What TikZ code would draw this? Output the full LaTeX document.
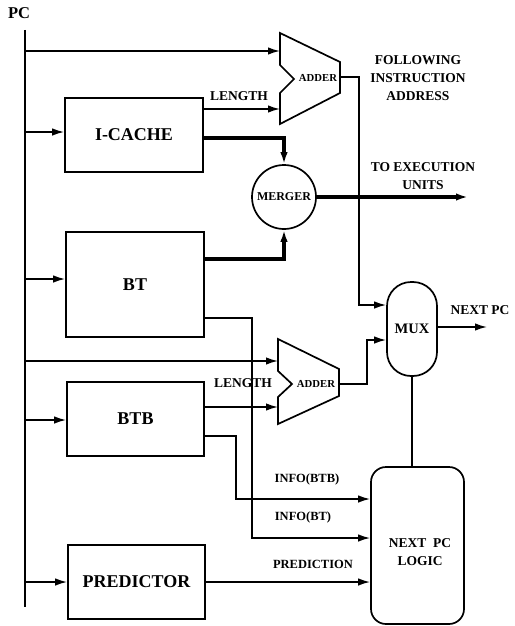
\documentclass[tikz,border=0pt]{standalone}
\usepackage{fontspec}
\setmainfont{Liberation Serif}
\usetikzlibrary{arrows.meta}
\tikzset{
  wire/.style={line width=1.6pt},
  thickwire/.style={line width=3.4pt},
  arr/.style={-{Latex[length=12pt,width=7.5pt]}},
  unit/.style={draw, line width=1.7pt, rectangle, inner sep=0pt},
  bigtxt/.style={font=\bfseries\fontsize{18}{20}\selectfont},
  lbl/.style={font=\bfseries\fontsize{13.5}{18}\selectfont, align=center, inner sep=0pt},
  smalllbl/.style={font=\bfseries\fontsize{12.5}{15}\selectfont, inner sep=0pt},
  addershape/.style={draw, line width=1.7pt, line join=miter}
}
\begin{document}
\begin{tikzpicture}[x=1pt,y=-1pt]
\useasboundingbox (0,0) rectangle (514,626);

% PC bus
\node[lbl, font=\bfseries\fontsize{16.5}{18}\selectfont] (pc) at (19,13) {PC};
\coordinate (busTop) at (25,30);
\coordinate (busBot) at (25,607);
\draw[wire] (busTop) -- (busBot);

% boxes
\node[unit, bigtxt, minimum width=138pt, minimum height=74pt] (icache) at (134,135) {I-CACHE};
\node[unit, bigtxt, minimum width=138pt, minimum height=105pt] (bt) at (135,284.5) {BT};
\node[unit, bigtxt, minimum width=137pt, minimum height=74pt] (btb) at (135.5,419) {BTB};
\node[unit, bigtxt, minimum width=137pt, minimum height=74pt] (pred) at (136.5,582) {PREDICTOR};

% merger
\node[draw, circle, line width=1.7pt, minimum size=64pt, inner sep=0pt,
      font=\bfseries\fontsize{12}{14}\selectfont] (merger) at (284,197) {MERGER};

% adders
\draw[addershape] (280,33) -- (340,62) -- (340,93) -- (280,124) -- (280,93) -- (294,79) -- (280,65) -- cycle;
\node[font=\bfseries\fontsize{10.7}{12}\selectfont, inner sep=0pt] (add1) at (318,78) {ADDER};
\coordinate (add1inA) at (280,51);
\coordinate (add1inB) at (280,109);
\coordinate (add1out) at (340,77);

\draw[addershape] (278,339) -- (339,369) -- (339,396) -- (278,424) -- (278,397) -- (292,384) -- (278,371) -- cycle;
\node[font=\bfseries\fontsize{10.7}{12}\selectfont, inner sep=0pt] (add2) at (316,384) {ADDER};
\coordinate (add2inA) at (278,361);
\coordinate (add2inB) at (278,407);
\coordinate (add2out) at (339,384);

% mux
\node[draw, line width=1.7pt, rectangle, rounded corners=24pt, minimum width=50pt, minimum height=94pt,
      inner sep=0pt, font=\bfseries\fontsize{14.5}{16}\selectfont] (mux) at (412,329) {MUX};

% next pc logic
\node[draw, line width=1.7pt, rectangle, rounded corners=15pt, minimum width=93pt, minimum height=157pt,
      inner sep=0pt] (npc) at (417.5,545.5) {};
\node[lbl, font=\bfseries\fontsize{13.5}{18}\selectfont] (npctext) at (420,552) {NEXT\ \ PC\\LOGIC};

% bus taps
\draw[wire, arr] (busTop |- add1inA) -- (add1inA);
\draw[wire, arr] (busTop |- 0,132) -- (icache.west |- 0,132);
\draw[wire, arr] (busTop |- 0,279) -- (bt.west |- 0,279);
\draw[wire, arr] (busTop |- add2inA) -- (add2inA);
\draw[wire, arr] (busTop |- 0,420) -- (btb.west |- 0,420);
\draw[wire, arr] (busTop |- 0,582) -- (pred.west |- 0,582);

% LENGTH lines
\draw[wire, arr] (icache.east |- add1inB) -- (add1inB);
\node[lbl] (len1) at (239,96) {LENGTH};
\draw[wire, arr] (btb.east |- add2inB) -- (add2inB);
\node[lbl] (len2) at (243,383) {LENGTH};

% merger thick lines
\draw[thickwire, arr] (icache.east |- 0,138) -| (merger.north);
\draw[thickwire, arr] (bt.east |- 0,259) -| (merger.south);
\coordinate (exeEnd) at (468,197);
\draw[thickwire, arr] (merger.east) -- (exeEnd);
\node[lbl] (toexe) at (423,176) {TO EXECUTION\\UNITS};

% adder outputs to mux
\draw[wire, arr] (add1out) -- (359,77) -- (359,305) -- (mux.west |- 0,305);
\node[lbl] (follow) at (418,78) {FOLLOWING\\INSTRUCTION\\ADDRESS};
\draw[wire, arr] (add2out) -- (367,384) -- (367,340) -- (mux.west |- 0,340);

% mux output
\coordinate (npcEnd) at (487,327);
\draw[wire, arr] (mux.east |- npcEnd) -- (npcEnd);
\node[lbl] (nextpc) at (480,310) {NEXT PC};
\draw[wire] (mux.south) -- (npc.north -| mux.south);

% info lines
\draw[wire, arr] (btb.east |- 0,436) -- (236,436) -- (236,499) -- (npc.west |- 0,499);
\node[smalllbl] (infobtb) at (307,479) {INFO(BTB)};
\draw[wire, arr] (bt.east |- 0,318) -- (252,318) -- (252,538) -- (npc.west |- 0,538);
\node[smalllbl] (infobt) at (303,517) {INFO(BT)};
\draw[wire, arr] (pred.east) -- (npc.west |- pred.east);
\node[smalllbl] (prediction) at (313,564) {PREDICTION};
\end{tikzpicture}
\end{document}
